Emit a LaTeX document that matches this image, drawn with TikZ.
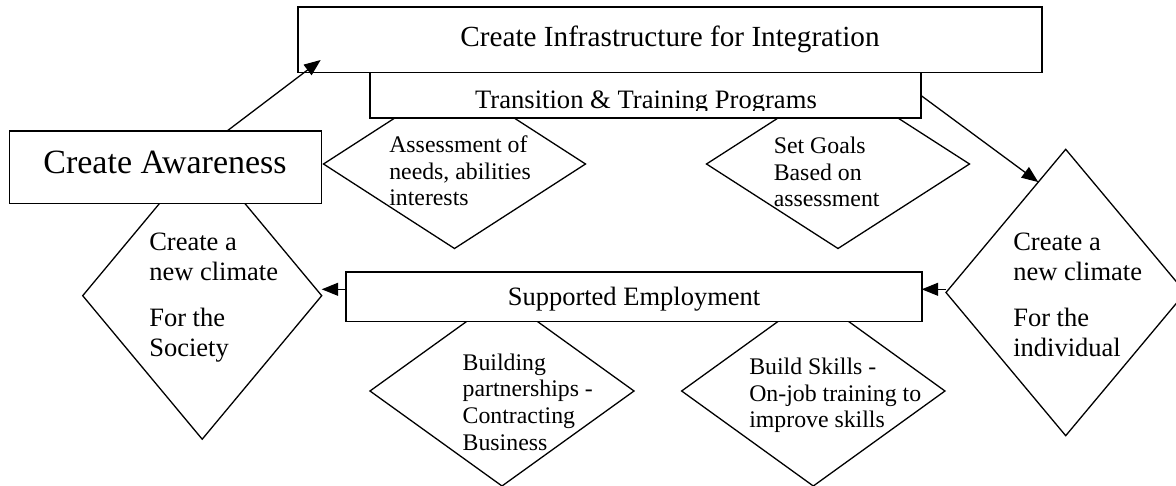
\documentclass[tikz,border=0pt]{standalone}
\usepackage{fontspec}
\setmainfont{Liberation Serif}
\usetikzlibrary{shapes.geometric,arrows.meta,calc}
\begin{document}
\begin{tikzpicture}[x=1pt,y=-1pt,
  box/.style={draw, line width=1.6pt, fill=white, inner sep=0pt, outer sep=0pt},
  dia/.style={draw, diamond, line width=1.3pt, fill=white, inner sep=0pt, outer sep=0pt},
  % multi-line captions: the base anchor sits on the last line
  txt/.style={inner sep=0pt, outer sep=0pt, align=left, anchor=base west},
  ctxt/.style={inner sep=0pt, outer sep=0pt, anchor=base},
  arr/.style={line width=1.3pt, -{Triangle[length=16.5pt,width=13pt]}},
  small/.style={font=\fontsize{23.8}{26.8}\selectfont},
  mid/.style={font=\fontsize{26.5}{30}\selectfont}
]
\useasboundingbox (0,0) rectangle (1176,486);
\fill[white] (0,0) rectangle (1176,486);
\clip (0,0) rectangle (1176,486);

% diamonds (drawn first, the boxes cover their tips)
\node[dia, minimum width=262, minimum height=169] (assess) at (454.5,164) {};
\node[dia, minimum width=263, minimum height=169] (goals) at (838,164) {};
\node[dia, minimum width=239, minimum height=287] (society) at (202.2,295.7) {};
\node[dia, minimum width=239.4, minimum height=286.4] (individual) at (1065.7,292.5) {};
\node[dia, minimum width=264, minimum height=190] (partner) at (502,391) {};
\node[dia, minimum width=263.3, minimum height=190] (skills) at (813.3,391) {};

% boxes
\node[box, minimum width=744, minimum height=65.4] (infra) at (670,40) {};
\node[box, minimum width=551, minimum height=45.6] (trans) at (645.5,95.5) {};
\node[box, minimum width=312, minimum height=72.3] (aware) at (165.5,167.2) {};
\node[box, minimum width=576, minimum height=49.4] (supp) at (633.7,297) {};

% box captions
\node[ctxt, font=\fontsize{29.2}{33}\selectfont] (infraT) at (670,46.5) {Create Infrastructure for Integration};
\begin{scope}
  \clip (trans.north west) rectangle ([yshift=7.3pt]trans.south east);
  \node[ctxt, font=\fontsize{26.6}{30}\selectfont] (transT) at (646,109) {Transition \& Training Programs};
\end{scope}
\node[ctxt, font=\fontsize{34}{38}\selectfont] (awareT) at (165,174) {Create Awareness};
\node[ctxt, mid] (suppT) at (634,305.7) {Supported Employment};

% diamond captions
\node[txt, small] (assessT) at (389.3,206) {Assessment of\\needs, abilities\\interests};
\node[txt, small] (goalsT) at (773.8,207) {Set Goals\\Based on\\assessment};
\node[txt, mid] (societyT) at (149.3,356.7) {Create a\\new climate\\[16.7pt]For the\\Society};
\node[txt, mid] (individualT) at (1013.3,357) {Create a\\new climate\\[16.7pt]For the\\individual};
\node[txt, small] (partnerT) at (462.7,450.5) {Building\\partnerships -\\Contracting\\Business};
\node[txt, small] (skillsT) at (749.3,428) {Build Skills -\\On-job training to\\improve skills};

% connectors
\coordinate (awareOut) at ([xshift=61.5pt]aware.north);
\coordinate (infraIn) at ([xshift=22.7pt,yshift=12.7pt]infra.south west);
\draw[arr] (awareOut) -- (infraIn);

\coordinate (indivIn) at ($(individual.west)!0.771!(individual.north)$);
\draw[arr] (trans.east) -- (indivIn);

\coordinate (suppL) at ([yshift=7.7pt]supp.west);
\draw[arr] (suppL) -- (suppL -| society.east);

\coordinate (suppR) at ([yshift=7.7pt]supp.east);
\draw[arr] (suppR -| individual.west) -- (suppR);
\end{tikzpicture}
\end{document}
